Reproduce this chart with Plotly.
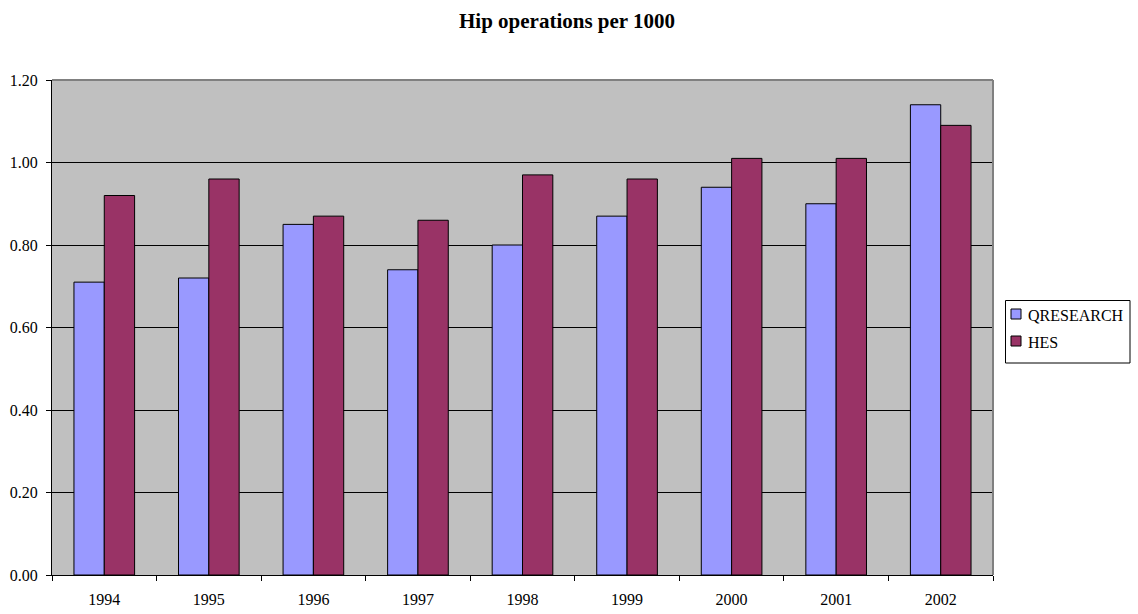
import plotly.graph_objects as go

years = ["1994", "1995", "1996", "1997", "1998", "1999", "2000", "2001", "2002"]
qresearch = [0.71, 0.72, 0.85, 0.74, 0.80, 0.87, 0.94, 0.90, 1.14]
hes = [0.92, 0.96, 0.87, 0.86, 0.97, 0.96, 1.01, 1.01, 1.09]
series_names = ["QRESEARCH", "HES"]
series_colors = ["#9999FF", "#993366"]
y_ticks = [0.0, 0.2, 0.4, 0.6, 0.8, 1.0, 1.2]
y_labels = ["%.2f" % v for v in y_ticks]

font = "Liberation Serif, Times New Roman, serif"

W, H = 1138, 614
L, R, T, B = 52, 0, 80, 39
plot_w = W - L - R
plot_h = H - T - B
x_end_px = 993


def px_x(x):
    return (x - L) / plot_w


def px_y(y):
    return (H - B - y) / plot_h


fig = go.Figure()
for name, vals, col in zip(series_names, [qresearch, hes], series_colors):
    fig.add_trace(go.Bar(x=years, y=vals, name=name,
                         marker=dict(color=col, line=dict(color="#000000", width=1))))

fig.update_layout(
    width=W, height=H,
    margin=dict(l=L, r=R, t=T, b=B),
    paper_bgcolor="white",
    plot_bgcolor="#C0C0C0",
    barmode="group",
    bargap=0.42,
    bargroupgap=0,
    font=dict(family=font, size=16, color="black"),
    title=dict(text="<b>Hip operations per 1000</b>", x=(454 + 680) / 2 / W, xanchor="center",
               y=1 - 21 / H, yanchor="middle",
               font=dict(family=font, size=21, color="black")),
    showlegend=False,
)
fig.update_xaxes(type="category", domain=[0, (x_end_px - L) / plot_w],
                 showgrid=False, showline=True, linecolor="black", linewidth=1,
                 ticks="outside", tickson="boundaries", ticklen=5, tickcolor="black",
                 ticklabelstandoff=10,
                 tickfont=dict(family=font, size=16, color="black"))
fig.update_yaxes(range=[0, 1.2], tickvals=y_ticks, ticktext=y_labels, showgrid=True,
                 gridcolor="black", gridwidth=1, zeroline=False, showline=True,
                 linecolor="black", linewidth=1, ticks="outside", ticklen=5, tickcolor="black",
                 ticklabelstandoff=5,
                 tickfont=dict(family=font, size=16, color="black"))

xe = (x_end_px - L) / plot_w
fig.add_shape(type="line", xref="paper", yref="paper", x0=0, x1=xe, y0=1, y1=1,
              line=dict(color="#808080", width=2))
fig.add_shape(type="line", xref="paper", yref="paper", x0=xe, x1=xe, y0=0, y1=1,
              line=dict(color="#808080", width=2))

# legend box
fig.add_shape(type="rect", xref="paper", yref="paper",
              x0=px_x(1005.5), x1=px_x(1130), y0=px_y(363), y1=px_y(300.5),
              line=dict(color="#000000", width=1), fillcolor="white", layer="above")
sym_tops = [309, 336]
for name, col, top in zip(series_names, series_colors, sym_tops):
    fig.add_shape(type="rect", xref="paper", yref="paper",
                  x0=px_x(1011), x1=px_x(1021), y0=px_y(top + 10), y1=px_y(top),
                  line=dict(color="#000000", width=1), fillcolor=col, layer="above")
    fig.add_annotation(xref="paper", yref="paper", x=px_x(1026), y=px_y(top + 6),
                       text=name, showarrow=False, xanchor="left", yanchor="middle",
                       font=dict(family=font, size=16, color="black"))

fig.write_html("out.html")
